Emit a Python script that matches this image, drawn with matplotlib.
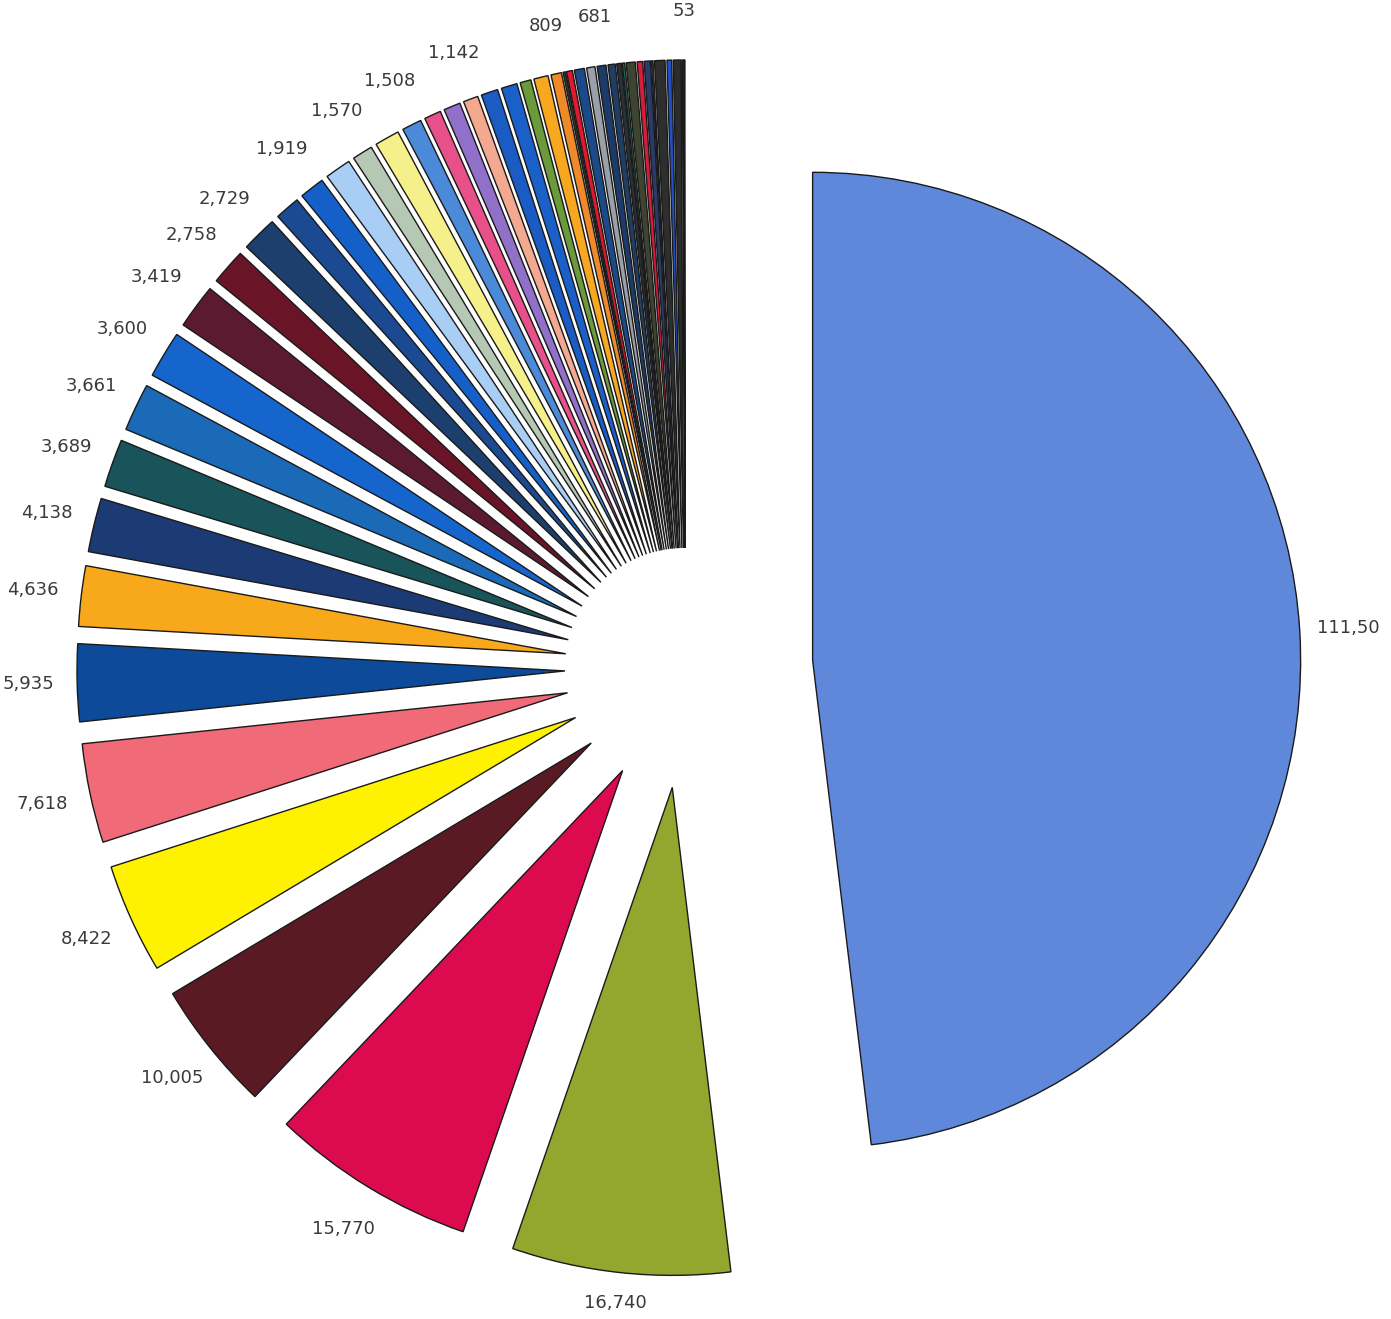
import numpy as np
import matplotlib.pyplot as plt

# slice values, largest first, drawn clockwise from 12 o'clock
values = [111500, 16740, 15770, 10005, 8422, 7618, 5935, 4636, 4138, 3689,
          3661, 3600, 3419, 2758, 2729, 1930, 1919, 2000, 1570, 1900,
          1508, 1290, 1290, 1142, 1290, 1220, 840, 1095, 809, 190,
          450, 770, 640, 681, 550, 360, 180, 700, 420, 480,
          120, 800, 360, 600, 120, 53]

# only some slices carry a label in the original
labels = ['111,50', '16,740', '15,770', '10,005', '8,422', '7,618', '5,935', '4,636', '4,138', '3,689',
          '3,661', '3,600', '3,419', '2,758', '2,729', '', '1,919', '', '1,570', '',
          '1,508', '', '', '1,142', '', '', '', '', '809', '',
          '', '', '', '681', '', '', '', '', '', '',
          '', '', '', '', '', '53']

colors = ['#6088da', '#93a72f', '#dc0a4e', '#5a1a24', '#fff200', '#f06a78', '#0d4a9a', '#f7a81b', '#1c3a74', '#18545a',
          '#1a6ab8', '#1565cc', '#5c1a30', '#6a1428', '#1c3f6e', '#1b4a92', '#1560c8', '#a8cef5', '#b4c8b4', '#f5f08a',
          '#4a8ad8', '#e8508a', '#9070c8', '#f4a890', '#1a5cc4', '#1a60c8', '#6a9a3a', '#f8a820', '#f08a28', '#3a3a2a',
          '#e01830', '#1a4a8a', '#9aa0a8', '#1c3a6a', '#1e3e64', '#2a2f38', '#1a6a5a', '#3e4430', '#d81c3c', '#2a3a6a',
          '#8a7ac0', '#2e2e2e', '#2050c8', '#2c2c2c', '#6a90d8', '#2a2a30']

W, H = 1391, 1319
cx, cy, R = 685, 668, 488   # pie centre and radius in pixels

explode = [0.246] * len(values)
explode[0] = 0.262

fig = plt.figure(figsize=(W / 100, H / 100), dpi=100)
ax = fig.add_axes([0, 0, 1, 1])

wedges, texts = ax.pie(values, labels=labels, colors=colors, startangle=90, counterclock=False,
                       explode=explode, labeldistance=1.1,
                       wedgeprops=dict(edgecolor='#1a1a1a', linewidth=1.0),
                       textprops=dict(fontsize=13, color='#3a3a3a', family='DejaVu Sans'))
for t in texts:
    t.set_ha('center')
    t.set_va('center')

# bottom label sits closer to its slice in the original
texts[1].set_y(-(1303 - cy) / R)

ax.set_xlim(-cx / R, (W - cx) / R)
ax.set_ylim(-(H - cy) / R, cy / R)
ax.set_aspect('equal')
ax.axis('off')

fig.savefig('out.png', dpi=100)
